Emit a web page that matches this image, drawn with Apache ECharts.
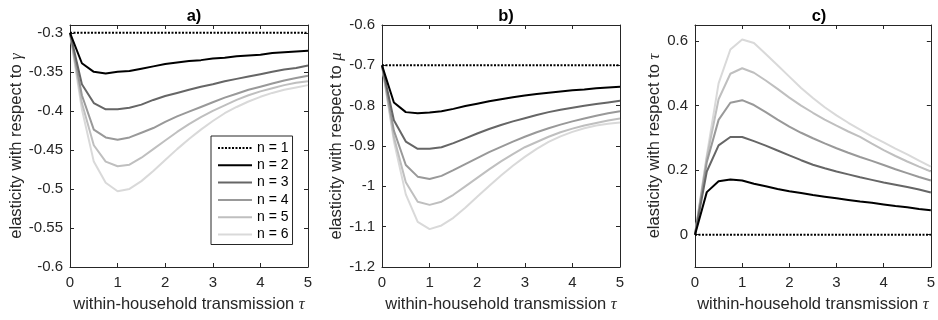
<!DOCTYPE html>
<html>
<head>
<meta charset="utf-8">
<script src="https://cdn.jsdelivr.net/npm/echarts@6/dist/echarts.min.js"></script>
<style>
  html, body { margin: 0; background: #fff; }
  #chart { width: 938px; height: 320px; }
</style>
</head>
<body>
<div id="chart"></div>
<script>
// tau grid (within-household transmission)
const tau = [0, 0.25, 0.5, 0.75, 1, 1.25, 1.5, 1.75, 2, 2.25, 2.5, 2.75, 3, 3.25, 3.5, 3.75, 4, 4.25, 4.5, 4.75, 5];
const seriesNames = ['n = 1', 'n = 2', 'n = 3', 'n = 4', 'n = 5', 'n = 6'];

// a) elasticity with respect to gamma
const aN1 = [-0.3, -0.3, -0.3, -0.3, -0.3, -0.3, -0.3, -0.3, -0.3, -0.3, -0.3, -0.3, -0.3, -0.3, -0.3, -0.3, -0.3, -0.3, -0.3, -0.3, -0.3];
const aN2 = [-0.300, -0.339, -0.350, -0.352, -0.350, -0.349, -0.346, -0.343, -0.340, -0.338, -0.336, -0.335, -0.333, -0.332, -0.330, -0.329, -0.328, -0.326, -0.325, -0.324, -0.323];
const aN3 = [-0.300, -0.366, -0.390, -0.398, -0.398, -0.396, -0.392, -0.386, -0.381, -0.377, -0.373, -0.369, -0.366, -0.362, -0.359, -0.356, -0.353, -0.350, -0.347, -0.345, -0.342];
const aN4 = [-0.300, -0.380, -0.424, -0.434, -0.437, -0.434, -0.428, -0.422, -0.414, -0.407, -0.401, -0.395, -0.389, -0.383, -0.378, -0.373, -0.369, -0.365, -0.361, -0.358, -0.355];
const aN5 = [-0.300, -0.390, -0.444, -0.465, -0.471, -0.469, -0.460, -0.449, -0.438, -0.427, -0.417, -0.408, -0.400, -0.393, -0.386, -0.380, -0.375, -0.371, -0.367, -0.364, -0.362];
const aN6 = [-0.300, -0.398, -0.465, -0.492, -0.503, -0.500, -0.490, -0.477, -0.463, -0.449, -0.436, -0.424, -0.413, -0.403, -0.395, -0.388, -0.382, -0.377, -0.373, -0.370, -0.367];

// b) elasticity with respect to mu
const bN1 = [-0.7, -0.7, -0.7, -0.7, -0.7, -0.7, -0.7, -0.7, -0.7, -0.7, -0.7, -0.7, -0.7, -0.7, -0.7, -0.7, -0.7, -0.7, -0.7, -0.7, -0.7];
const bN2 = [-0.700, -0.792, -0.816, -0.819, -0.817, -0.814, -0.808, -0.801, -0.795, -0.789, -0.784, -0.779, -0.775, -0.771, -0.768, -0.765, -0.762, -0.760, -0.757, -0.755, -0.753];
const bN3 = [-0.700, -0.836, -0.889, -0.907, -0.907, -0.903, -0.893, -0.881, -0.869, -0.858, -0.848, -0.839, -0.831, -0.823, -0.816, -0.810, -0.805, -0.800, -0.796, -0.792, -0.788];
const bN4 = [-0.700, -0.862, -0.947, -0.976, -0.982, -0.974, -0.960, -0.945, -0.930, -0.915, -0.902, -0.889, -0.877, -0.866, -0.856, -0.847, -0.839, -0.832, -0.825, -0.819, -0.814];
const bN5 = [-0.700, -0.878, -0.990, -1.038, -1.046, -1.038, -1.021, -1.000, -0.979, -0.958, -0.938, -0.920, -0.903, -0.890, -0.877, -0.866, -0.857, -0.849, -0.843, -0.837, -0.832];
const bN6 = [-0.700, -0.888, -1.020, -1.088, -1.106, -1.097, -1.078, -1.053, -1.026, -0.999, -0.973, -0.949, -0.927, -0.907, -0.890, -0.876, -0.865, -0.856, -0.849, -0.845, -0.842];

// c) elasticity with respect to tau
const cN1 = [0, 0, 0, 0, 0, 0, 0, 0, 0, 0, 0, 0, 0, 0, 0, 0, 0, 0, 0, 0, 0];
const cN2 = [0, 0.132, 0.166, 0.171, 0.168, 0.158, 0.150, 0.142, 0.135, 0.129, 0.123, 0.118, 0.113, 0.108, 0.103, 0.099, 0.094, 0.089, 0.085, 0.080, 0.076];
const cN3 = [0, 0.196, 0.277, 0.303, 0.303, 0.290, 0.276, 0.261, 0.246, 0.231, 0.217, 0.206, 0.196, 0.187, 0.178, 0.170, 0.162, 0.155, 0.148, 0.140, 0.131];
const cN4 = [0, 0.225, 0.356, 0.409, 0.417, 0.402, 0.380, 0.357, 0.335, 0.316, 0.299, 0.283, 0.268, 0.254, 0.241, 0.229, 0.216, 0.203, 0.191, 0.179, 0.168];
const cN5 = [0, 0.238, 0.420, 0.499, 0.516, 0.502, 0.478, 0.452, 0.425, 0.400, 0.378, 0.357, 0.338, 0.320, 0.303, 0.282, 0.262, 0.244, 0.227, 0.211, 0.196];
const cN6 = [0, 0.246, 0.469, 0.574, 0.605, 0.594, 0.560, 0.525, 0.490, 0.455, 0.424, 0.395, 0.370, 0.347, 0.326, 0.305, 0.286, 0.267, 0.249, 0.230, 0.211];

// tick labels
const aTicks = [-0.6, -0.55, -0.5, -0.45, -0.4, -0.35, -0.3];
const bTicks = [-1.2, -1.1, -1, -0.9, -0.8, -0.7, -0.6];
const cTicks = [0, 0.2, 0.4, 0.6];

const FONT = 'Liberation Sans, Arial, sans-serif';
const AXIS_COLOR = '#262626';
const lineColors = ['#000000', '#000000', '#666666', '#999999', '#bfbfbf', '#d9d9d9'];

const panels = [
  { title: 'a)', left: 70, min: -0.6, max: -0.29, ticks: aTicks, sym: 'γ', nameGap: 45, data: [aN1, aN2, aN3, aN4, aN5, aN6] },
  { title: 'b)', left: 382, min: -1.2, max: -0.6, ticks: bTicks, sym: 'μ', nameGap: 37, data: [bN1, bN2, bN3, bN4, bN5, bN6] },
  { title: 'c)', left: 695, min: -0.1, max: 0.65, ticks: cTicks, sym: 'τ', nameGap: 32, data: [cN1, cN2, cN3, cN4, cN5, cN6] },
];
const W = 238;
const H = 242;
const TOP = 25;

const richName = {
  t: { fontSize: 16.5, color: AXIS_COLOR, fontFamily: FONT },
  g: { fontSize: 16.5, color: AXIS_COLOR, fontFamily: 'Liberation Serif, serif', fontStyle: 'italic' },
};

const grid = [];
const xAxis = [];
const yAxis = [];
const series = [];
const title = [];

panels.forEach((p, i) => {
  grid.push({ left: p.left, top: TOP, width: W, height: H });
  title.push({
    text: p.title,
    left: p.left + W / 2,
    top: 3,
    textAlign: 'center',
    textStyle: { fontSize: 16.5, fontWeight: 'bold', color: '#000', fontFamily: FONT },
  });

  const axisLine = { show: true, onZero: false, lineStyle: { color: AXIS_COLOR, width: 1 } };
  xAxis.push({
    type: 'value',
    gridIndex: i,
    min: 0,
    max: 5,
    interval: 1,
    position: 'bottom',
    axisLine,
    axisTick: { inside: true, length: 4, lineStyle: { color: AXIS_COLOR } },
    axisLabel: { margin: 8, fontSize: 15, color: AXIS_COLOR, fontFamily: FONT },
    splitLine: { show: false },
    name: '{t|within-household transmission }{g|τ}',
    nameLocation: 'middle',
    nameGap: 29,
    nameTextStyle: { rich: richName },
  });
  xAxis.push({
    type: 'value',
    gridIndex: i,
    min: 0,
    max: 5,
    interval: 1,
    position: 'top',
    axisLine,
    axisTick: { inside: true, length: 4, lineStyle: { color: AXIS_COLOR } },
    axisLabel: { show: false },
    splitLine: { show: false },
  });
  yAxis.push({
    type: 'value',
    gridIndex: i,
    min: p.min,
    max: p.max,
    position: 'left',
    axisLine,
    axisTick: { inside: true, length: 4, customValues: p.ticks, lineStyle: { color: AXIS_COLOR } },
    axisLabel: { margin: 7, fontSize: 15, color: AXIS_COLOR, fontFamily: FONT, customValues: p.ticks },
    splitLine: { show: false },
    name: '{t|elasticity with respect to }{g|' + p.sym + '}',
    nameLocation: 'middle',
    nameGap: p.nameGap,
    nameTextStyle: { rich: richName },
  });
  yAxis.push({
    type: 'value',
    gridIndex: i,
    min: p.min,
    max: p.max,
    position: 'right',
    axisLine,
    axisTick: { inside: true, length: 4, customValues: p.ticks, lineStyle: { color: AXIS_COLOR } },
    axisLabel: { show: false, customValues: p.ticks },
    splitLine: { show: false },
  });

  p.data.forEach((vals, n) => {
    series.push({
      name: seriesNames[n],
      type: 'line',
      xAxisIndex: i * 2,
      yAxisIndex: i * 2,
      data: tau.map((t, k) => [t, vals[k]]),
      symbol: 'none',
      clip: true,
      z: 10 - n,
      lineStyle: {
        color: lineColors[n],
        width: 2,
        type: n === 0 ? [2, 1.5] : 'solid',
      },
      itemStyle: { color: lineColors[n] },
    });
  });
});

const chart = echarts.init(document.getElementById('chart'), null, { renderer: 'canvas' });
chart.setOption({
  animation: false,
  backgroundColor: '#fff',
  title,
  grid,
  xAxis,
  yAxis,
  series,
  legend: {
    data: seriesNames,
    orient: 'vertical',
    left: 211,
    top: 136,
    itemWidth: 34,
    itemHeight: 14,
    itemGap: 3.3,
    padding: [5, 4, 3, 6],
    borderColor: AXIS_COLOR,
    borderWidth: 1,
    backgroundColor: '#fff',
    selectedMode: false,
    itemStyle: { opacity: 0 },
    textStyle: { fontSize: 14, color: '#000', fontFamily: FONT },
  },
});
</script>
</body>
</html>
